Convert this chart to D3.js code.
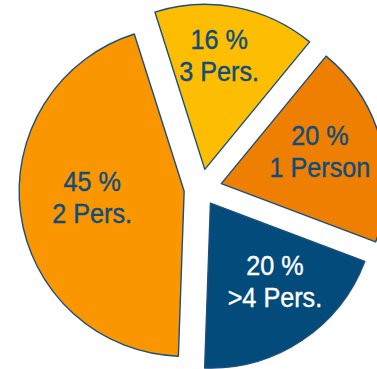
<!DOCTYPE html>
<html>
<head>
<meta charset="utf-8">
<script src="https://cdn.jsdelivr.net/npm/d3@7"></script>
<style>
  body { margin: 0; background: #ffffff; }
  svg text { font-family: "Liberation Sans", Arial, sans-serif; }
</style>
</head>
<body>
<div id="chart"></div>
<script>
// household sizes, clockwise from the top
var categories = ['3 Pers.', '1 Person', '>4 Pers.', '2 Pers.'];
var shares = [16, 20, 20, 45];
var shareLabels = ['16 %', '20 %', '20 %', '45 %'];

// look of the chart
var colors = ['#fdbd00', '#ee7f00', '#034b7b', '#fa9600'];
var textColors = ['#0f4c7f', '#0f4c7f', '#ffffff', '#0f4c7f'];
var explode = [20, 21, 17, 17];
var labelNudge = [[-5, -14], [0, -6], [8, -7], [9, -8]];

var width = 377, height = 369;
var cx = 201, cy = 189, radius = 165, labelRadius = 102;
var narrow = 0.9; // squeeze the sans so it reads like a narrow face

var svg = d3.select('#chart').append('svg')
    .attr('width', width)
    .attr('height', height);

var g = svg.append('g')
    .attr('transform', 'translate(' + cx + ',' + cy + ')');

var start = -17.6 * Math.PI / 180;
var pie = d3.pie()
    .sort(null)
    .startAngle(start)
    .endAngle(start + 2 * Math.PI)
    .value(function(d) { return d; });

var arc = d3.arc().innerRadius(0).outerRadius(radius);

var slices = g.selectAll('g.slice')
    .data(pie(shares))
    .enter().append('g')
    .attr('class', 'slice')
    .attr('transform', function(d, i) {
        var mid = (d.startAngle + d.endAngle) / 2;
        return 'translate(' + (explode[i] * Math.sin(mid)) + ',' + (-explode[i] * Math.cos(mid)) + ')';
    });

slices.append('path')
    .attr('d', arc)
    .attr('fill', function(d, i) { return colors[i]; })
    .attr('stroke', '#1b4f7c')
    .attr('stroke-width', 1.4)
    .attr('stroke-linejoin', 'round');

var labels = slices.append('text')
    .attr('text-anchor', 'middle')
    .attr('font-size', 28)
    .attr('fill', function(d, i) { return textColors[i]; })
    .attr('stroke', function(d, i) { return textColors[i]; })
    .attr('stroke-width', 0.4)
    .attr('transform', function(d, i) {
        var mid = (d.startAngle + d.endAngle) / 2;
        var x = labelRadius * Math.sin(mid) + labelNudge[i][0];
        var y = -labelRadius * Math.cos(mid) + labelNudge[i][1];
        return 'translate(' + x + ',' + y + ') scale(' + narrow + ',1)';
    });

labels.append('tspan')
    .attr('x', 0)
    .attr('y', -6)
    .text(function(d, i) { return shareLabels[i]; });

labels.append('tspan')
    .attr('x', 0)
    .attr('y', 26)
    .text(function(d, i) { return categories[i]; });
</script>
</body>
</html>
